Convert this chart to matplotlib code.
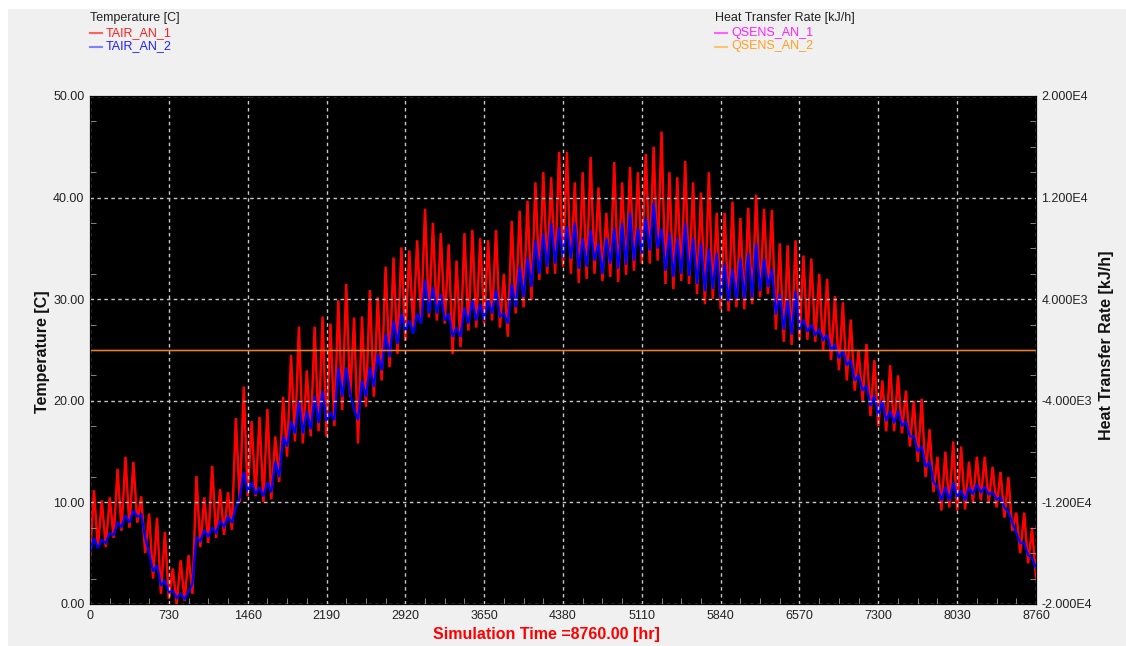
import numpy as np
import matplotlib
matplotlib.use("Agg")
import matplotlib.pyplot as plt
from matplotlib.patches import Rectangle
from matplotlib.lines import Line2D

plt.rcParams['font.family'] = ['Liberation Sans', 'DejaVu Sans']

# ---------------- data ----------------
# Red series TAIR_AN_1: troughs at t = 0, 73, ..., 8760 h; peaks at t = 36.5 + 73k
tair1_troughs = [
    4.5, 5.6, 5.6, 6.5, 7.2, 7.5, 8.0, 5.0, 2.5, 1.0,
    0.5, 0.0, 0.3, 1.0, 5.6, 6.0, 6.5, 6.8, 7.3, 10.0,
    10.6, 10.6, 10.0, 10.3, 12.0, 14.5, 16.0, 15.8, 16.5, 17.0,
    16.5, 17.5, 19.1, 20.4, 15.8, 19.4, 20.4, 22.0, 23.3, 24.6,
    25.9, 27.2, 27.9, 28.2, 27.9, 27.6, 24.6, 25.3, 26.9, 27.2,
    27.6, 27.9, 27.2, 26.3, 28.6, 29.2, 29.9, 31.9, 32.5, 32.5,
    33.2, 32.5, 31.6, 32.0, 32.5, 31.8, 32.2, 31.7, 32.4, 32.8,
    33.5, 33.5, 33.8, 31.5, 31.0, 31.8, 31.5, 30.5, 29.5, 30.0,
    29.0, 28.8, 29.2, 29.0, 29.5, 30.2, 30.5, 27.0, 25.8, 25.5,
    26.0, 26.0, 25.8, 25.0, 24.0, 23.0, 22.0, 21.0, 20.0, 18.5,
    17.5, 17.0, 17.0, 16.8, 15.5, 14.0, 12.5, 11.0, 9.2, 9.5,
    9.2, 9.3, 10.0, 10.2, 10.0, 9.5, 8.5, 7.2, 5.0, 4.0,
    2.5,
]
tair1_peaks = [
    11.2, 10.2, 10.5, 13.3, 14.5, 14.0, 10.6, 8.9, 8.5, 7.1,
    3.5, 4.3, 4.8, 12.6, 10.5, 13.6, 11.3, 11.0, 18.3, 21.4,
    18.0, 18.4, 19.2, 16.5, 20.4, 24.5, 27.3, 23.0, 27.3, 28.3,
    27.6, 29.9, 31.5, 28.2, 28.3, 30.9, 30.2, 33.2, 34.1, 35.1,
    34.8, 35.8, 38.9, 37.5, 36.5, 35.4, 33.8, 36.5, 36.8, 36.0,
    35.8, 36.8, 32.5, 37.7, 38.7, 39.7, 41.5, 42.5, 42.0, 44.5,
    44.5, 41.5, 42.5, 44.0, 41.0, 38.5, 43.5, 41.5, 43.0, 42.5,
    44.3, 45.0, 46.5, 42.5, 42.0, 43.6, 41.5, 40.5, 42.5, 38.5,
    38.5, 39.6, 38.0, 39.0, 40.3, 38.9, 38.8, 35.5, 35.3, 35.8,
    34.3, 34.0, 32.5, 32.0, 30.3, 29.7, 28.0, 25.0, 25.6, 24.0,
    22.0, 23.5, 22.5, 21.0, 20.0, 20.2, 17.2, 14.5, 15.0, 16.0,
    15.5, 14.0, 14.5, 14.5, 13.5, 13.0, 12.5, 9.0, 9.0, 7.5,
]
# Blue series TAIR_AN_2
tair2_troughs = [
    5.0, 5.5, 6.0, 6.8, 7.6, 8.0, 8.6, 6.5, 3.2, 1.8,
    1.2, 0.6, 0.5, 2.0, 6.2, 6.6, 7.0, 7.6, 8.0, 10.5,
    11.0, 10.8, 10.6, 11.0, 12.5, 15.5, 16.8, 16.8, 17.2, 17.8,
    18.0, 18.1, 20.4, 20.7, 18.1, 20.4, 21.4, 23.0, 24.3, 25.6,
    26.9, 26.6, 27.6, 28.6, 28.6, 27.9, 26.3, 26.3, 27.6, 27.9,
    27.9, 28.6, 28.3, 27.6, 29.2, 30.2, 31.2, 32.5, 33.2, 33.5,
    34.1, 34.0, 33.0, 33.2, 33.8, 32.5, 33.5, 33.0, 33.4, 33.8,
    34.5, 34.8, 35.0, 32.8, 32.2, 32.5, 32.3, 31.5, 30.8, 31.0,
    30.0, 29.8, 30.0, 30.0, 30.2, 30.8, 31.2, 28.5, 27.0, 26.5,
    27.0, 26.8, 26.5, 26.0, 25.0, 24.2, 23.5, 22.0, 21.0, 19.5,
    18.5, 18.0, 17.8, 17.5, 16.5, 15.0, 13.5, 12.0, 10.2, 10.2,
    10.5, 10.2, 10.8, 11.0, 10.8, 10.3, 9.5, 8.0, 6.0, 4.8,
    3.5,
]
tair2_peaks = [
    6.5, 6.3, 7.0, 8.0, 8.7, 9.2, 8.8, 5.0, 3.8, 2.3,
    1.3, 1.0, 1.2, 6.5, 7.3, 7.5, 8.2, 8.6, 9.5, 13.0,
    12.0, 11.5, 12.0, 14.0, 16.5, 18.0, 20.0, 19.0, 20.5, 21.0,
    18.8, 23.3, 23.3, 19.1, 22.0, 23.3, 24.6, 26.6, 27.9, 28.6,
    27.9, 28.6, 31.9, 31.2, 30.5, 28.6, 27.2, 29.2, 29.9, 29.6,
    29.9, 30.9, 28.6, 31.5, 33.2, 34.1, 35.8, 36.5, 37.5, 37.1,
    37.2, 37.5, 36.0, 36.8, 35.5, 36.0, 37.0, 37.5, 38.5, 37.0,
    38.0, 39.5, 37.0, 36.5, 36.0, 37.5, 36.0, 35.5, 35.0, 34.5,
    33.5, 33.0, 34.0, 34.5, 35.5, 34.0, 33.0, 30.5, 30.0, 30.8,
    28.0, 27.5, 27.0, 26.5, 25.5, 25.0, 24.0, 22.5, 21.5, 20.5,
    20.0, 19.0, 19.0, 18.0, 16.5, 15.5, 14.0, 11.5, 11.5, 12.0,
    11.2, 11.5, 11.8, 11.5, 11.0, 10.5, 9.0, 7.0, 6.0, 4.5,
]
# Heat transfer rate series (flat at ~0 kJ/h)
qsens_time = [0, 8760]
qsens_an_1 = [0.0, 0.0]
qsens_an_2 = [0.0, 0.0]

x_ticks = [0, 730, 1460, 2190, 2920, 3650, 4380, 5110, 5840, 6570, 7300, 8030, 8760]
y_ticks = [0, 10, 20, 30, 40, 50]
y2_ticks = [-20000, -12000, -4000, 4000, 12000, 20000]
y2_labels = ['-2.000E4', '-1.200E4', '-4.000E3', '4.000E3', '1.200E4', '2.000E4']

# interleave troughs and peaks into time-ordered series
half_step = 36.5
n_pts = len(tair1_troughs) + len(tair1_peaks)
time_h = np.arange(n_pts) * half_step
tair1 = np.empty(n_pts); tair1[0::2] = tair1_troughs; tair1[1::2] = tair1_peaks
tair2 = np.empty(n_pts); tair2[0::2] = tair2_troughs; tair2[1::2] = tair2_peaks

# ---------------- figure ----------------
W, H = 1126, 646
fig = plt.figure(figsize=(W / 100, H / 100), dpi=100)
fig.patch.set_facecolor('white')
fig.patches.append(Rectangle((8 / W, 0), 1 - 8 / W, (H - 9) / H, transform=fig.transFigure,
                             facecolor='#F0F0F0', edgecolor='none', zorder=-10))

ax = fig.add_axes([90 / W, 42 / H, 946 / W, 508 / H])
ax.set_facecolor('black')
ax.plot(time_h, tair1, color='#FF0000', lw=1.8, zorder=2, solid_joinstyle='miter')
ax.plot(time_h, tair2, color='#0000FF', lw=1.6, zorder=2.1, solid_joinstyle='miter')
ax.set_xlim(0, 8760)
ax.set_ylim(0, 50)

ax.set_xticks(x_ticks)
ax.set_xticklabels([str(v) for v in x_ticks])
ax.set_xticks(np.arange(182.5, 8760, 182.5), minor=True)
ax.set_yticks(y_ticks)
ax.set_yticklabels(['%.2f' % v for v in y_ticks])
ax.set_yticks(np.arange(2.5, 50, 5.0), minor=True)
ax.set_axisbelow(False)
ax.grid(True, which='major', color='#C8C8C8', linestyle=(0, (2.5, 2.5)), lw=1.0)
ax.tick_params(axis='both', which='major', length=0, labelsize=9, labelcolor='#222222', pad=4)
ax.tick_params(axis='both', which='minor', length=4, direction='in', color='#9A9A9A')
for s in ax.spines.values():
    s.set_color('black')

ax2 = ax.twinx()
ax2.plot(qsens_time, qsens_an_1, color='#FF00FF', lw=1.0)
ax2.plot(qsens_time, qsens_an_2, color='#E08A00', lw=1.0)
ax2.set_ylim(-20000, 20000)
ax2.set_yticks(y2_ticks)
ax2.set_yticklabels(y2_labels)
ax2.set_yticks(np.arange(-18000, 20000, 2000), minor=True)
ax2.tick_params(axis='y', which='major', length=0, labelsize=9, labelcolor='#222222', pad=4)
ax2.tick_params(axis='y', which='minor', length=4, direction='in', color='#9A9A9A')
for s in ax2.spines.values():
    s.set_color('black')

# axis titles
fig.text(43 / W, 1 - 352 / H, 'Temperature [C]', rotation=90, ha='center', va='center',
         fontsize=11.5, fontweight='bold', color='#111111')
fig.text(1107 / W, 1 - 345 / H, 'Heat Transfer Rate [kJ/h]', rotation=90, ha='center', va='center',
         fontsize=11.5, fontweight='bold', color='#111111')
fig.text(546 / W, 1 - 634 / H, 'Simulation Time =8760.00 [hr]', ha='center', va='center',
         fontsize=11.5, fontweight='bold', color='#FF0000')

# legends (top)
def legend_block(x0, title, entries):
    fig.text(x0 / W, 1 - 18 / H, title, ha='left', va='center', fontsize=9, color='#222222')
    for i, (lab, lcol, tcol) in enumerate(entries):
        yy = 1 - (33 + 13.5 * i) / H
        fig.lines.append(Line2D([x0 / W, (x0 + 12) / W], [yy, yy], transform=fig.transFigure,
                                color=lcol, lw=1.5))
        fig.text((x0 + 16) / W, yy, lab, ha='left', va='center', fontsize=9, color=tcol)

legend_block(90, 'Temperature [C]', [('TAIR_AN_1', '#FF6060', '#FF2020'),
                                     ('TAIR_AN_2', '#8080FF', '#2020FF')])
legend_block(715, 'Heat Transfer Rate [kJ/h]', [('QSENS_AN_1', '#FF60FF', '#FF20FF'),
                                                ('QSENS_AN_2', '#FFC070', '#FFA020')])

fig.savefig('out.png', dpi=100, facecolor=fig.get_facecolor())
